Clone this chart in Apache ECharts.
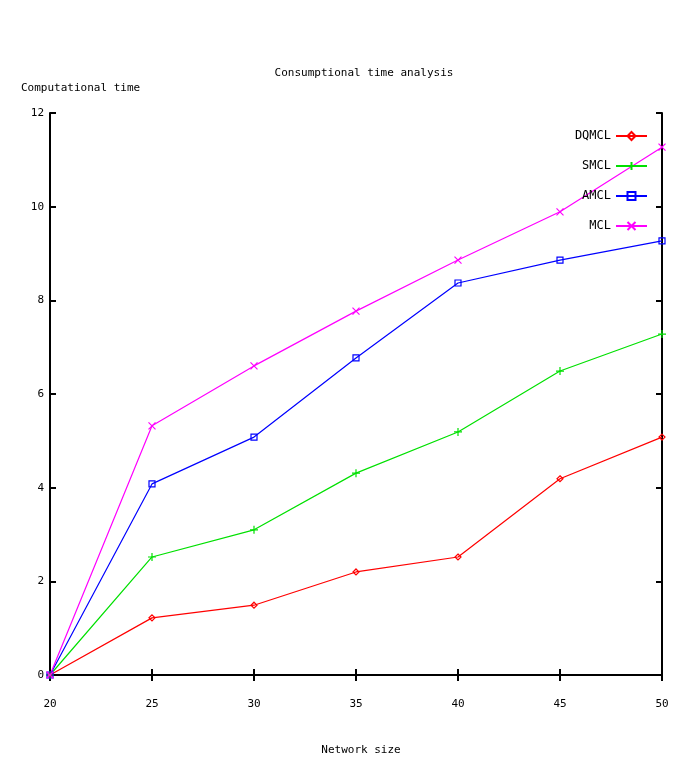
<!DOCTYPE html>
<html>
<head>
  <meta charset="utf-8">
  <script src="https://cdn.jsdelivr.net/npm/echarts@6/dist/echarts.min.js"></script>
  <style>
    body { margin: 0; background-color: white }
  </style>
  <title>Consumptional time analysis</title>
  <script type="text/javascript">

    // network sizes on the x axis
    const sizes = [20, 25, 30, 35, 40, 45, 50];
    // computational time
    const dqmcl = [0, 1.22, 1.49, 2.2, 2.52, 4.19, 5.08];
    const smcl  = [0, 2.52, 3.1, 4.31, 5.19, 6.49, 7.28];
    const amcl  = [0, 4.08, 5.08, 6.77, 8.37, 8.86, 9.27];
    const mcl   = [0, 5.32, 6.6, 7.77, 8.86, 9.89, 11.27];

    const FONT = 'DejaVu Sans Mono';
    const PLUS = 'path://M5,0L5,10M0,5L10,5';
    const CROSS = 'path://M0,0L10,10M10,0L0,10';

    function pairs(ys) {
      return sizes.map((x, i) => [x, ys[i]]);
    }

    function makeSeries(name, ys, color, symbol, size) {
      return {
        name: name,
        type: 'line',
        data: pairs(ys),
        symbol: symbol,
        symbolSize: size,
        showAllSymbol: true,
        lineStyle: { color: color, width: 1.2 },
        itemStyle: { color: 'rgba(0,0,0,0)', borderColor: color, borderWidth: 1.2 },
        emphasis: { disabled: true },
        animation: false
      };
    }

    function init() {
      var chart = echarts.init(document.getElementById('main'));
      var tick = { inside: true, length: 6, lineStyle: { color: '#000', width: 2 } };
      var txt = { fontFamily: FONT, fontSize: 11, fontWeight: 'normal', color: '#000' };
      var option = {
        textStyle: { fontFamily: FONT },
        title: [
          { text: 'Consumptional time analysis', left: 359, top: 63, textAlign: 'center', textStyle: txt },
          { text: 'Computational time', left: 16, top: 78, textStyle: txt },
          { text: 'Network size', left: 356, top: 740, textAlign: 'center', textStyle: txt }
        ],
        legend: {
          orient: 'vertical',
          right: 33,
          top: 125,
          align: 'right',
          itemGap: 18,
          itemWidth: 31,
          itemHeight: 10,
          selectedMode: false,
          textStyle: { fontFamily: FONT, fontSize: 12, color: '#000', padding: [0, 0, 0, 0] },
          data: ['DQMCL', 'SMCL', 'AMCL', 'MCL']
        },
        grid: { left: 50, right: 24, top: 113, bottom: 83 },
        xAxis: [
          {
            type: 'value', min: 20, max: 50, interval: 5,
            axisLine: { lineStyle: { color: '#000', width: 2 } },
            axisTick: tick,
            axisLabel: { margin: 24, color: '#000', fontFamily: FONT, fontSize: 11 },
            splitLine: { show: false }
          },
          {
            type: 'value', position: 'top', min: 20, max: 50, interval: 5,
            axisLine: { show: true, lineStyle: { color: '#000', width: 2 } },
            axisTick: tick,
            axisLabel: { show: false },
            splitLine: { show: false }
          }
        ],
        yAxis: [
          {
            type: 'value', min: 0, max: 12, interval: 2,
            axisLine: { show: true, lineStyle: { color: '#000', width: 2 } },
            axisTick: tick,
            axisLabel: { margin: 6, color: '#000', fontFamily: FONT, fontSize: 11 },
            splitLine: { show: false }
          },
          {
            type: 'value', position: 'right', min: 0, max: 12, interval: 2,
            axisLine: { show: true, lineStyle: { color: '#000', width: 2 } },
            axisTick: tick,
            axisLabel: { show: false },
            splitLine: { show: false }
          }
        ],
        series: [
          makeSeries('DQMCL', dqmcl, '#ff0000', 'diamond', 6),
          makeSeries('SMCL', smcl, '#00e000', PLUS, 8),
          makeSeries('AMCL', amcl, '#0000ff', 'rect', 6),
          makeSeries('MCL', mcl, '#ff00ff', CROSS, 7)
        ]
      };
      chart.setOption(option);
    }
  </script>
</head>
<body onload="init()">
  <div id="main" style="width: 686px; height: 758px;"></div>
</body>
</html>
